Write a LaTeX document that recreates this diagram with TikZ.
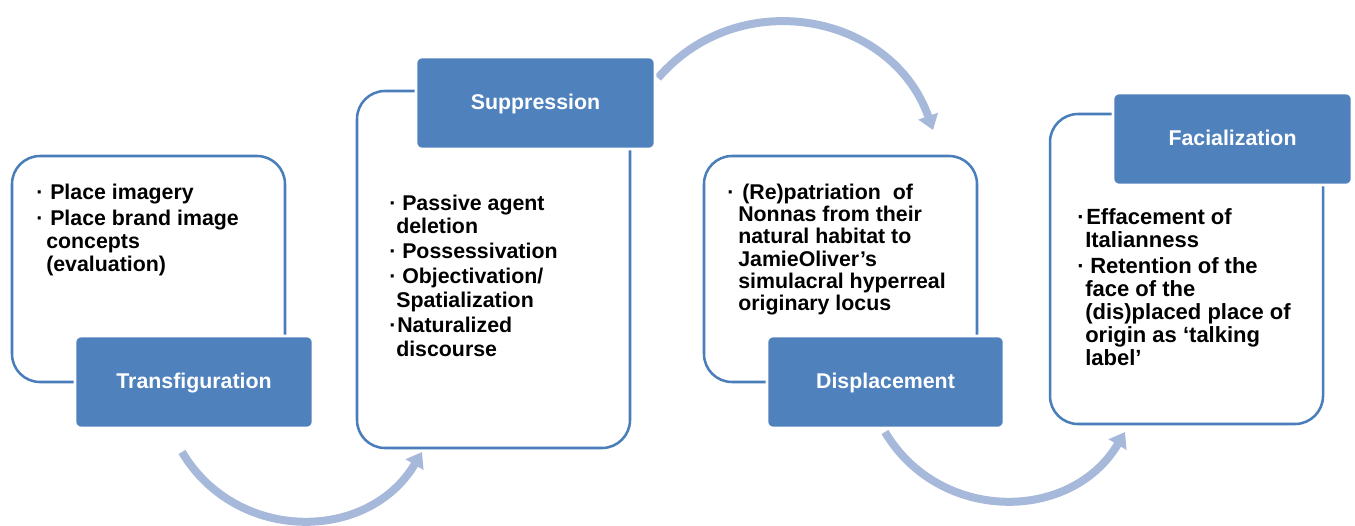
\documentclass[tikz,border=0pt]{standalone}
\usepackage{fontspec}
\setmainfont{Liberation Sans}
\usetikzlibrary{arrows.meta}
\definecolor{hdr}{RGB}{79,129,189}
\definecolor{edgeblue}{RGB}{74,126,187}
\definecolor{flowc}{RGB}{167,185,218}
\newcommand{\bl}[1]{\makebox[#1][l]{\textperiodcentered}}
\tikzset{
  panel/.style={draw=edgeblue, line width=1.9pt, fill=white, rounded corners=21pt, minimum width=204.75pt},
  header/.style={fill=hdr, draw=white, line width=2pt, rounded corners=4.5pt, text=white,
    font=\bfseries\fontsize{16}{19}\selectfont, text height=12.5pt, text depth=3pt, inner sep=0pt,
    minimum height=69pt},
  body/.style={anchor=north west, inner sep=0pt, align=left},
  flow/.style={draw=flowc, line width=6pt, -{Triangle[width=15pt,length=11pt]}}
}
\begin{document}
\begin{tikzpicture}[x=0.75pt,y=-0.75pt]
\fill[white] (0,0) rectangle (1355,525);
\useasboundingbox (0,0) rectangle (1355,525);

% panels
\node[panel, minimum height=169.5pt]  (p1) at (148.5,269) {};
\node[panel, minimum height=267.75pt] (p2) at (493.5,269.5) {};
\node[panel, minimum height=169.5pt]  (p3) at (840.5,269) {};
\node[panel, minimum height=232.5pt]  (p4) at (1186.5,269) {};

% flow arrows
\coordinate (a1s) at (182,452);  \coordinate (a1e) at (422,452);
\coordinate (a2s) at (658,78);   \coordinate (a2e) at (933,130);
\coordinate (a3s) at (885,432);  \coordinate (a3e) at (1125,432);
\draw[flow] (a1s) .. controls (236,543) and (368,543) .. (a1e);
\draw[flow] (a2s) .. controls (739,-16) and (892,13) .. (a2e);
\draw[flow] (a3s) .. controls (939,523) and (1071,523) .. (a3e);

% headers
\node[header, minimum width=178.5pt]  (h1) at (194,382)   {Transfiguration};
\node[header, minimum width=179.25pt] (h2) at (535.5,103) {Suppression};
\node[header, minimum width=177.75pt] (h3) at (885.5,382) {Displacement};
\node[header, minimum width=179.25pt] (h4) at (1232.5,139) {Facialization};

% body texts
\node[body, font=\bfseries\fontsize{16}{17.5}\selectfont] (t1) at (36,182.7) {%
\strut\bl{10.5pt}Place imagery\\[2pt]
\bl{10.5pt}Place brand image\\
\hspace*{7.5pt}concepts\\
\hspace*{7.5pt}(evaluation)};

\node[body, font=\bfseries\fontsize{16}{17.75}\selectfont] (t2) at (389,193.4) {%
\strut\bl{9.75pt}Passive agent\\
\hspace*{5.25pt}deletion\\[1pt]
\bl{9.75pt}Possessivation\\[1pt]
\bl{9.75pt}Objectivation/\\
\hspace*{5.25pt}Spatialization\\[1pt]
\bl{6pt}Naturalized\\
\hspace*{5.25pt}discourse};

\node[body, font=\bfseries\fontsize{16}{16.75}\selectfont] (t3) at (727,183.4) {%
\strut\bl{11.25pt}(Re)patriation\ \ of\\
\hspace*{8.25pt}Nonnas from their\\
\hspace*{8.25pt}natural habitat to\\
\hspace*{8.25pt}JamieOliver’s\\
\hspace*{8.25pt}simulacral hyperreal\\
\hspace*{8.25pt}originary locus};

\node[body, font=\bfseries\fontsize{16.5}{17.25}\selectfont] (t4) at (1077,207.9) {%
\strut\bl{6.75pt}Effacement of\\
\hspace*{6pt}Italianness\\[2.25pt]
\bl{9.75pt}Retention of the\\
\hspace*{6pt}face of the\\
\hspace*{6pt}(dis)placed place of\\
\hspace*{6pt}origin as ‘talking\\
\hspace*{6pt}label’};
\end{tikzpicture}
\end{document}
